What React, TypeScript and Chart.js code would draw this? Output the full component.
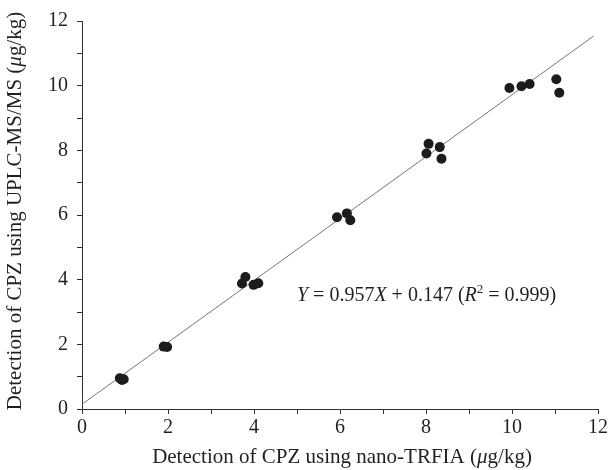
import React, { useEffect, useRef } from 'react';
import { Chart, registerables } from 'chart.js';
Chart.register(...registerables);

// Measured points (x: nano-TRFIA, y: UPLC-MS/MS), µg/kg
const xValues = [0.88, 0.97, 0.93, 1.9, 1.98, 3.8, 3.72, 3.99, 4.1, 5.93, 6.16, 6.24, 8.06, 8.01, 8.32, 8.36, 9.94, 10.22, 10.41, 11.03, 11.1];
const yValues = [0.95, 0.92, 0.9, 1.93, 1.92, 4.08, 3.88, 3.84, 3.89, 5.93, 6.05, 5.84, 8.2, 7.9, 8.1, 7.74, 9.93, 9.98, 10.05, 10.2, 9.78];
// Regression line Y = 0.957X + 0.147
const slope = 0.957;
const intercept = 0.147;
const lineX = [0, 11.9];
const axisMin = 0;
const axisMax = 12;
const xTitle = [{ t: 'Detection of CPZ using nano-TRFIA (' }, { t: 'μ', i: true }, { t: 'g/kg)' }];
const yTitle = [{ t: 'Detection of CPZ using UPLC-MS/MS (' }, { t: 'μ', i: true }, { t: 'g/kg)' }];
const eqText = [
  { t: 'Y', i: true }, { t: ' = 0.957' }, { t: 'X', i: true }, { t: ' + 0.147 (' },
  { t: 'R', i: true }, { t: '2', s: true }, { t: ' = 0.999)' },
];
const eqPos = { x: 5.0, y: 3.49 };

const FONT = '"Liberation Serif", "Times New Roman", serif';
const TEXT = '#231f20';

type Seg = { t: string; i?: boolean; s?: boolean };

function segFont(seg: Seg, size: number) {
  const sz = seg.s ? Math.round(size * 0.65) : size;
  return `${seg.i ? 'italic ' : ''}${sz}px ${FONT}`;
}

function drawRich(ctx: CanvasRenderingContext2D, segs: Seg[], x: number, y: number, align: 'left' | 'center', size: number) {
  ctx.save();
  ctx.fillStyle = TEXT;
  ctx.textBaseline = 'middle';
  ctx.textAlign = 'left';
  let total = 0;
  for (const s of segs) {
    ctx.font = segFont(s, size);
    total += ctx.measureText(s.t).width;
  }
  let cx = align === 'center' ? x - total / 2 : x;
  for (const s of segs) {
    ctx.font = segFont(s, size);
    const dy = s.s ? -size * 0.35 : 0;
    ctx.fillText(s.t, cx, y + dy);
    cx += ctx.measureText(s.t).width;
  }
  ctx.restore();
}

const textPlugin = {
  id: 'richText',
  afterDraw(chart: any) {
    const ctx = chart.ctx as CanvasRenderingContext2D;
    const xs = chart.scales.x;
    const ys = chart.scales.y;
    const area = chart.chartArea;
    drawRich(ctx, xTitle, (area.left + area.right) / 2 + 2, 457, 'center', 21);
    ctx.save();
    ctx.translate(15, (area.top + area.bottom) / 2 - 4);
    ctx.rotate(-Math.PI / 2);
    drawRich(ctx, yTitle, 0, 0, 'center', 21);
    ctx.restore();
    drawRich(ctx, eqText, xs.getPixelForValue(eqPos.x), ys.getPixelForValue(eqPos.y), 'left', 20);
  },
};

export default function App() {
  const ref = useRef<HTMLCanvasElement | null>(null);
  useEffect(() => {
    if (!ref.current) return;
    const points = xValues.map((x, i) => ({ x, y: yValues[i] }));
    const linePts = lineX.map((x) => ({ x, y: slope * x + intercept }));
    const tickCb = (v: any) => (Number(v) % 2 === 0 ? String(v) : '');
    const common = {
      type: 'linear' as const,
      min: axisMin,
      max: axisMax,
      border: { display: true, color: '#333', width: 1 },
      grid: { drawOnChartArea: false, drawTicks: true, tickLength: 5, color: '#333', lineWidth: 1 },
      ticks: { stepSize: 1, autoSkip: false, maxRotation: 0, color: TEXT, font: { family: FONT, size: 20 }, callback: tickCb },
    };
    const chart = new Chart(ref.current, {
      type: 'scatter',
      data: {
        datasets: [
          {
            type: 'line',
            data: linePts,
            borderColor: '#666',
            borderWidth: 0.9,
            pointRadius: 0,
            fill: false,
            order: 2,
          } as any,
          {
            data: points,
            backgroundColor: '#1c1c1c',
            borderColor: '#1c1c1c',
            pointRadius: 5,
            pointBorderWidth: 0,
            order: 1,
          },
        ],
      },
      options: {
        responsive: false,
        animation: false,
        layout: { padding: { top: 19, right: 15, left: 0, bottom: 0 } },
        plugins: { legend: { display: false }, tooltip: { enabled: false } },
        scales: {
          x: {
            ...common,
            position: 'bottom',
            ticks: { ...common.ticks, padding: 2 },
            afterFit: (s: any) => { s.height = 61; },
          },
          y: {
            ...common,
            position: 'left',
            ticks: { ...common.ticks, padding: 9 },
            afterFit: (s: any) => { s.width = 82; },
          },
        },
      } as any,
      plugins: [textPlugin],
    });
    return () => chart.destroy();
  }, []);
  return (
    <div style={{ position: 'absolute', left: 0, top: 0, width: 613, height: 470, background: '#fff' }}>
      <canvas ref={ref} width={613} height={470} />
    </div>
  );
}
